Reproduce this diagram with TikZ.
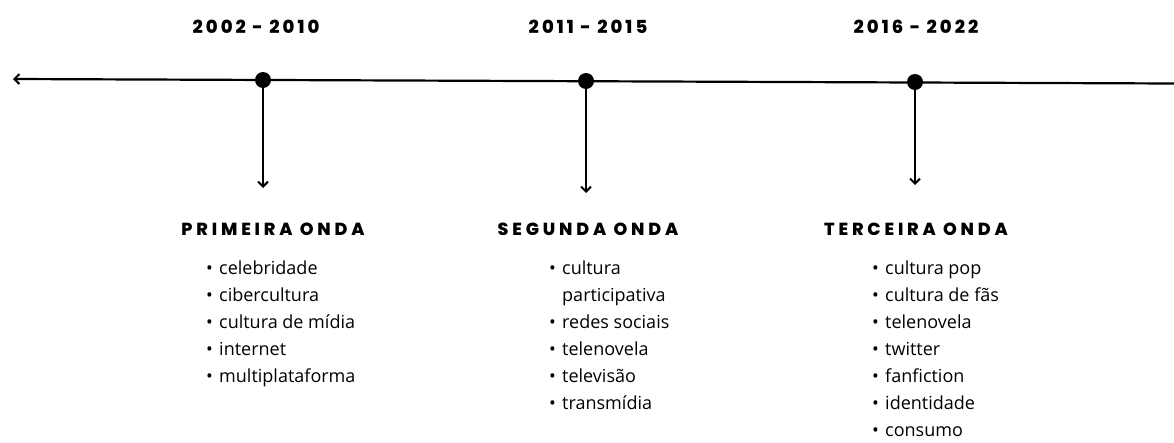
\documentclass[tikz,border=0pt]{standalone}
\usepackage{fontspec}
\setmainfont{Open Sans}
\newfontfamily\yearfont{Poppins}[LetterSpace=17, BoldFont={Poppins ExtraBold}]
\newfontfamily\headfont{Poppins}[LetterSpace=22, BoldFont={Poppins ExtraBold}]
\usetikzlibrary{arrows.meta}
\newcommand{\bul}{\makebox[13pt][l]{\textbullet}}
\begin{document}
\begin{tikzpicture}[x=1pt,y=-1pt,
  axis/.style={line width=2.2pt, draw=black},
  dot/.style={circle, fill=black, minimum size=16pt, inner sep=0pt},
  tip/.style={-{Straight Barb[length=5pt,width=10pt,line width=2pt]}},
  year/.style={font=\yearfont\bfseries\fontsize{18}{20}\selectfont, inner sep=0pt},
  head/.style={font=\headfont\bfseries\fontsize{17.5}{20}\selectfont, inner sep=0pt},
  list/.style={font=\fontsize{18}{26.9}\selectfont, align=left, anchor=north west, inner sep=0pt}]
\useasboundingbox (0,0) rectangle (1174,442);
\fill[white] (0,0) rectangle (1174,442);
\coordinate (L) at (13,79);
\coordinate (R) at (1174,83.5);
\draw[axis, tip] (R) -- (L);
\node[dot] (d1) at (263,80) {};
\node[dot] (d2) at (586,81) {};
\node[dot] (d3) at (915,82) {};
\coordinate (a1) at (263,188);
\coordinate (a2) at (586,193);
\coordinate (a3) at (915,185);
\draw[axis, tip] (d1.center) -- (a1);
\draw[axis, tip] (d2.center) -- (a2);
\draw[axis, tip] (d3.center) -- (a3);
\node[year] (y1) at (256,27) {2002 - 2010};
\node[year] (y2) at (588,27) {2011 - 2015};
\node[year] (y3) at (916,27) {2016 - 2022};
\node[head] (h1) at (273,229) {PRIMEIRA ONDA};
\node[head] (h2) at (588,229) {SEGUNDA ONDA};
\node[head] (h3) at (916,229) {TERCEIRA ONDA};
\node[list] (l1) at (206,261) {\bul celebridade\\ \bul cibercultura\\ \bul cultura de mídia\\ \bul internet\\ \bul multiplataforma};
\node[list] (l2) at (549,261) {\bul cultura\\ \hspace*{13pt}participativa\\ \bul redes sociais\\ \bul telenovela\\ \bul televisão\\ \bul transmídia};
\node[list] (l3) at (872,261) {\bul cultura pop\\ \bul cultura de fãs\\ \bul telenovela\\ \bul twitter\\ \bul fanfiction\\ \bul identidade\\ \bul consumo};
\end{tikzpicture}
\end{document}
